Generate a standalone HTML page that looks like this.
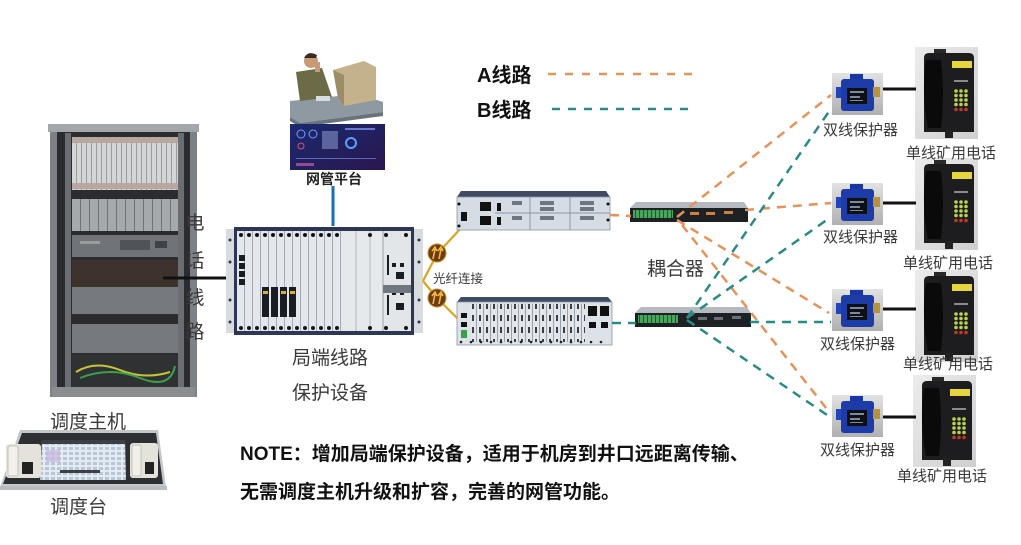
<!DOCTYPE html>
<html><head><meta charset="utf-8">
<style>
html,body{margin:0;padding:0;background:#fff;}
svg{display:block;}
text{font-family:"Liberation Sans","Noto Sans CJK SC",sans-serif;}
</style></head><body>
<svg width="1021" height="545" viewBox="0 0 1021 545" xmlns="http://www.w3.org/2000/svg" xmlns:xlink="http://www.w3.org/1999/xlink">
<defs>
<pattern id="cards1" x="72" y="0" width="5" height="10" patternUnits="userSpaceOnUse"><rect width="5" height="10" fill="#d3d5d7"/><rect x="4" width="1" height="10" fill="#9a9ca0"/></pattern>
<pattern id="cards2" x="72" y="0" width="9" height="10" patternUnits="userSpaceOnUse"><rect width="9" height="10" fill="#a6a9ac"/><rect x="8" width="1" height="10" fill="#6f7276"/></pattern>
<pattern id="cardsC" x="237" y="0" width="8" height="10" patternUnits="userSpaceOnUse"><rect width="8" height="10" fill="#e4e7eb"/><rect x="7" width="1" height="10" fill="#a4abb3"/></pattern>
<pattern id="cardsL" x="470" y="0" width="7" height="12" patternUnits="userSpaceOnUse"><rect width="7" height="12" fill="#e2e6ea"/><rect x="6" width="1" height="12" fill="#98a0aa"/><rect x="2" y="3" width="2" height="6" fill="#3a3f46"/></pattern>
<pattern id="term" x="0" y="0" width="4" height="8" patternUnits="userSpaceOnUse"><rect width="4" height="8" fill="#4aa35c"/><rect x="3" width="1" height="8" fill="#1f5a2a"/></pattern>
<pattern id="grid" x="44" y="446" width="6" height="5" patternUnits="userSpaceOnUse"><rect width="6" height="5" fill="#e4ebf2"/><rect x="1" y="1" width="4" height="3" fill="#b9c6d6"/></pattern>
<linearGradient id="pbg" x1="0" y1="0" x2="0" y2="1"><stop offset="0" stop-color="#e2e2e2"/><stop offset="1" stop-color="#b0b0b0"/></linearGradient>
<linearGradient id="phbg" x1="0" y1="0" x2="1" y2="1"><stop offset="0" stop-color="#ececec"/><stop offset="1" stop-color="#cfcfcf"/></linearGradient>
<linearGradient id="scr" x1="0" y1="0" x2="1" y2="1"><stop offset="0" stop-color="#1a2a6e"/><stop offset="1" stop-color="#2a1650"/></linearGradient>

<g id="prot">
  <rect x="832" y="73" width="51" height="42" fill="url(#pbg)"/>
  <rect x="836" y="87" width="6" height="11" fill="#2445b8"/>
  <rect x="850" y="74" width="13" height="6" fill="#1a36a2"/>
  <rect x="841" y="79" width="33" height="32" rx="3" fill="#1e3ca8"/>
  <rect x="873" y="87" width="7" height="10" fill="#b8923a"/>
  <rect x="847" y="88" width="20" height="16" fill="#0e1016"/>
  <rect x="850" y="91" width="14" height="2" fill="#7a8aa0"/>
  <rect x="850" y="96" width="10" height="2" fill="#7a8aa0"/>
  <rect x="850" y="100" width="13" height="1" fill="#7a8aa0"/>
</g>
<g id="phone">
  <rect x="915" y="47" width="63" height="92" fill="url(#phbg)"/>
  <rect x="934" y="49" width="12" height="5" fill="#2a2a2a"/>
  <path d="M924,58 Q924,53 929,53 L969,53 Q974,53 974,58 L974,132 L924,132 Z" fill="#1d1d1f"/>
  <path d="M926,60 Q921,95 928,128 L941,128 Q945,95 941,60 Z" fill="#0a0a0b"/>
  <rect x="952" y="61" width="20" height="7" fill="#e4d63c"/>
  <rect x="954" y="80" width="14" height="2" fill="#8a8a8a"/>
  <g fill="#bcd24a">
    <circle cx="956" cy="91" r="1.8"/><circle cx="961" cy="91" r="1.8"/><circle cx="966" cy="91" r="1.8"/>
    <circle cx="956" cy="95.5" r="1.8"/><circle cx="961" cy="95.5" r="1.8"/><circle cx="966" cy="95.5" r="1.8"/>
    <circle cx="956" cy="100" r="1.8"/><circle cx="961" cy="100" r="1.8"/><circle cx="966" cy="100" r="1.8"/>
    <circle cx="956" cy="104.5" r="1.8"/><circle cx="961" cy="104.5" r="1.8"/><circle cx="966" cy="104.5" r="1.8"/>
  </g>
  <g fill="#c0392b"><circle cx="956" cy="109.5" r="1.8"/><circle cx="961" cy="109.5" r="1.8"/><circle cx="966" cy="109.5" r="1.8"/></g>
  <rect x="945" y="130" width="8" height="8" fill="#222"/>
</g>
</defs>

<!-- ===== Rack ===== -->
<rect x="50" y="125" width="147" height="272" fill="#7d8187"/>
<rect x="48" y="124" width="151" height="8" fill="#a3a6aa"/>
<rect x="57" y="132" width="133" height="255" fill="#2a2c2f"/>
<rect x="65" y="133" width="6" height="254" fill="#6a6d72"/>
<rect x="178" y="133" width="6" height="254" fill="#6a6d72"/>
<rect x="72" y="137" width="106" height="53" fill="url(#cards1)"/>
<rect x="72" y="137" width="106" height="6" fill="#b9a8a2"/>
<rect x="72" y="183" width="106" height="6" fill="#b9a8a2"/>
<rect x="72" y="199" width="106" height="32" fill="url(#cards2)"/>
<rect x="72" y="235" width="106" height="22" fill="#707377"/>
<rect x="120" y="240" width="30" height="10" fill="#505357"/>
<rect x="155" y="241" width="12" height="7" fill="#3e4145"/>
<rect x="80" y="241" width="20" height="3" fill="#9a9da0"/>
<rect x="72" y="260" width="106" height="27" fill="#3d322c"/>
<rect x="72" y="287" width="106" height="27" fill="#76797d"/>
<rect x="72" y="324" width="106" height="29" fill="#76797d"/>
<rect x="72" y="355" width="106" height="32" fill="#2f3132"/>
<path d="M76,372 Q95,360 120,370 T170,372" stroke="#c9c33a" stroke-width="2" fill="none"/>
<path d="M80,378 Q110,366 140,378 T175,366" stroke="#3aa04a" stroke-width="2" fill="none"/>
<rect x="52" y="387" width="143" height="10" fill="#8a8d90"/>

<!-- line to central device -->
<line x1="163" y1="278" x2="228" y2="278" stroke="#111" stroke-width="3"/>
<g font-size="19" fill="#3a3a3a" text-anchor="middle">
<text x="195" y="229">电</text>
<text x="195" y="267">话</text>
<text x="195" y="304">线</text>
<text x="195" y="338">路</text>
</g>
<text x="50" y="428" font-size="19" fill="#3a3a3a">调度主机</text>

<!-- ===== Console ===== -->
<polygon points="20,430 158,430 166,487 0,487" fill="#c4c7ca"/>
<polygon points="22,433 156,433 163,484 3,484" fill="#2e2f33"/>
<rect x="0" y="486" width="167" height="4" fill="#b9bcc0"/>
<polygon points="42,440 125,440 126,480 40,480" fill="url(#grid)"/>
<rect x="42" y="440" width="83" height="4" fill="#3b4048"/>
<rect x="60" y="470" width="40" height="3" fill="#3b4048"/>
<rect x="46" y="450" width="14" height="12" fill="#c6b6e0" opacity="0.7"/>
<rect x="6" y="444" width="35" height="34" rx="3" fill="#e4e2da"/>
<rect x="8" y="446" width="10" height="30" rx="2" fill="#f2f0ea" stroke="#b9b7b0" stroke-width="0.8"/>
<rect x="22" y="462" width="11" height="12" fill="#222"/>
<rect x="130" y="443" width="28" height="35" rx="3" fill="#e4e2da"/>
<rect x="132" y="445" width="9" height="31" rx="2" fill="#f2f0ea" stroke="#b9b7b0" stroke-width="0.8"/>
<rect x="145" y="462" width="9" height="12" fill="#222"/>
<text x="50" y="513" font-size="19" fill="#3a3a3a">调度台</text>

<!-- ===== Network management ===== -->
<polygon points="290,101 358,94 383,102 383,112 300,123 290,117" fill="#8f99a2"/>
<polygon points="290,117 300,123 383,112 383,116 300,127 290,121" fill="#6a737c"/>
<polygon points="333,70 364,61 376,67 376,100 344,106 338,98" fill="#c4b28c"/>
<polygon points="333,70 338,98 344,106 344,75" fill="#9d8c68"/>
<polygon points="296,72 322,68 332,97 300,101" fill="#6b6c47"/>
<circle cx="311" cy="61" r="7" fill="#c99a78"/>
<path d="M304,58 Q308,50 317,55 L316,58 Z" fill="#3a2a20"/>
<rect x="315" y="62" width="5" height="10" fill="#c99a78"/>
<rect x="316" y="96" width="14" height="5" fill="#d8dde2"/>
<rect x="290" y="124" width="95" height="46" fill="url(#scr)"/>
<circle cx="301" cy="134" r="4" fill="none" stroke="#7a9aff" stroke-width="1"/>
<circle cx="313" cy="134" r="4" fill="none" stroke="#7a9aff" stroke-width="1"/>
<circle cx="301" cy="146" r="3" fill="none" stroke="#e0507a" stroke-width="1"/>
<rect x="322" y="131" width="16" height="18" fill="#8e9ad0" opacity="0.55"/>
<circle cx="351" cy="143" r="5" fill="none" stroke="#5aa0ff" stroke-width="2"/>
<rect x="345" y="128" width="30" height="2" fill="#6a7ad0"/>
<rect x="296" y="158" width="80" height="1" fill="#5a6ab0"/>
<rect x="296" y="163" width="18" height="3" fill="#c060a0" opacity="0.7"/>
<text x="334" y="184" font-size="14" font-weight="bold" fill="#222" text-anchor="middle">网管平台</text>
<line x1="333" y1="186" x2="333" y2="226" stroke="#1c6db3" stroke-width="3"/>

<!-- ===== Central device ===== -->
<rect x="226" y="229" width="10" height="104" fill="#d9dcdf"/>
<rect x="413" y="229" width="10" height="104" fill="#d9dcdf"/>
<g fill="#2c3550"><circle cx="230" cy="240" r="1.5"/><circle cx="230" cy="262" r="1.5"/><circle cx="230" cy="300" r="1.5"/><circle cx="230" cy="322" r="1.5"/>
<circle cx="419" cy="240" r="1.5"/><circle cx="419" cy="262" r="1.5"/><circle cx="419" cy="300" r="1.5"/><circle cx="419" cy="322" r="1.5"/></g>
<rect x="234" y="227" width="180" height="108" fill="#2d3653"/>
<rect x="237" y="231" width="174" height="100" fill="#dfe3e7"/>
<rect x="237" y="231" width="106" height="100" fill="url(#cardsC)"/>
<rect x="343" y="231" width="40" height="100" fill="#e6e9ec"/>
<line x1="356" y1="231" x2="356" y2="331" stroke="#b0b6bd"/>
<line x1="370" y1="231" x2="370" y2="331" stroke="#b0b6bd"/>
<rect x="383" y="231" width="28" height="100" fill="#e3e6e9"/>
<line x1="383" y1="231" x2="383" y2="331" stroke="#9aa1a9"/>
<g fill="#1a1d24">
<rect x="239" y="255" width="6" height="6"/><rect x="239" y="263" width="6" height="6"/><rect x="239" y="271" width="6" height="6"/><rect x="239" y="279" width="6" height="6"/>
<rect x="262" y="287" width="7" height="30"/><rect x="271" y="287" width="7" height="30"/><rect x="280" y="287" width="7" height="30"/><rect x="289" y="287" width="7" height="30"/>
<rect x="392" y="263" width="4" height="4"/><rect x="400" y="263" width="4" height="4"/><rect x="396" y="272" width="8" height="7"/>
<rect x="392" y="291" width="4" height="4"/><rect x="400" y="291" width="4" height="4"/><rect x="396" y="303" width="8" height="7"/>
<rect x="387" y="255" width="2" height="20"/><rect x="387" y="295" width="2" height="20"/>
</g>
<g fill="#d4b23a"><rect x="263" y="291" width="5" height="3"/><rect x="281" y="291" width="5" height="3"/><rect x="290" y="291" width="5" height="3"/></g>
<rect x="383" y="285" width="28" height="8" fill="#707780"/>
<g fill="#121418">
<circle cx="241" cy="235" r="2"/><circle cx="249" cy="235" r="2"/><circle cx="257" cy="235" r="2"/><circle cx="265" cy="235" r="2"/><circle cx="273" cy="235" r="2"/><circle cx="281" cy="235" r="2"/><circle cx="289" cy="235" r="2"/><circle cx="297" cy="235" r="2"/><circle cx="305" cy="235" r="2"/><circle cx="313" cy="235" r="2"/><circle cx="321" cy="235" r="2"/><circle cx="329" cy="235" r="2"/><circle cx="337" cy="235" r="2"/><circle cx="370" cy="235" r="2"/><circle cx="386" cy="235" r="2"/><circle cx="406" cy="235" r="2"/>
<circle cx="241" cy="328" r="2"/><circle cx="249" cy="328" r="2"/><circle cx="257" cy="328" r="2"/><circle cx="265" cy="328" r="2"/><circle cx="273" cy="328" r="2"/><circle cx="281" cy="328" r="2"/><circle cx="289" cy="328" r="2"/><circle cx="297" cy="328" r="2"/><circle cx="305" cy="328" r="2"/><circle cx="313" cy="328" r="2"/><circle cx="321" cy="328" r="2"/><circle cx="329" cy="328" r="2"/><circle cx="337" cy="328" r="2"/><circle cx="370" cy="328" r="2"/><circle cx="386" cy="328" r="2"/><circle cx="406" cy="328" r="2"/>
</g>
<text x="330" y="364" font-size="19" fill="#3a3a3a" text-anchor="middle">局端线路</text>
<text x="330" y="399" font-size="19" fill="#3a3a3a" text-anchor="middle">保护设备</text>

<!-- ===== Fiber ===== -->
<polyline points="423,281 437,254 462,227" fill="none" stroke="#d9a520" stroke-width="2.2"/>
<polyline points="423,281 437,298 461,322" fill="none" stroke="#d9a520" stroke-width="2.2"/>
<g>
<circle cx="437" cy="253" r="9" fill="#6e3c12" stroke="#c8902e" stroke-width="1"/>
<path d="M433,259 L435,249 M439,259 L441,249 M432,251 L435,247 L437,251 M438,251 L441,247 L443,251" stroke="#f0b848" stroke-width="1.6" fill="none"/>
<circle cx="437" cy="298" r="9" fill="#6e3c12" stroke="#c8902e" stroke-width="1"/>
<path d="M433,304 L435,294 M439,304 L441,294 M432,296 L435,292 L437,296 M438,296 L441,292 L443,296" stroke="#f0b848" stroke-width="1.6" fill="none"/>
</g>
<text x="433" y="283" font-size="12.5" fill="#3a3a3a">光纤连接</text>

<!-- ===== Upper right device ===== -->
<polygon points="461,191 606,191 610,197 457,197" fill="#3f4a63"/>
<rect x="457" y="197" width="153" height="33" fill="#d6dce3" stroke="#8a96a8" stroke-width="0.8"/>
<line x1="495" y1="213" x2="610" y2="213" stroke="#8a96a8"/>
<line x1="530" y1="197" x2="530" y2="230" stroke="#8a96a8"/>
<line x1="570" y1="197" x2="570" y2="230" stroke="#8a96a8"/>
<g fill="#111">
<rect x="461" y="212" width="6" height="9"/>
<rect x="480" y="202" width="11" height="9"/><rect x="480" y="216" width="11" height="9"/>
<rect x="497" y="203" width="4" height="8"/><rect x="497" y="217" width="4" height="8"/>
<circle cx="459" cy="204" r="1.5"/><circle cx="459" cy="226" r="1.5"/>
<circle cx="608" cy="204" r="1.5"/><circle cx="608" cy="220" r="1.5"/>
</g>
<g fill="#6e7680">
<rect x="540" y="201" width="14" height="4"/><rect x="540" y="207" width="14" height="4"/><rect x="540" y="216" width="14" height="4"/>
<rect x="580" y="201" width="14" height="4"/><rect x="580" y="207" width="14" height="4"/><rect x="580" y="216" width="14" height="4"/>
<rect x="512" y="201" width="10" height="4"/><rect x="512" y="216" width="10" height="4"/>
</g>

<!-- ===== Lower right device ===== -->
<polygon points="461,297 608,297 612,302 457,302" fill="#3f4a63"/>
<rect x="457" y="302" width="155" height="43" fill="#dde2e8" stroke="#8a96a8" stroke-width="0.8"/>
<rect x="470" y="304" width="115" height="38" fill="url(#cardsL)"/>
<g fill="#111">
<rect x="461" y="313" width="6" height="5"/><rect x="461" y="322" width="6" height="5"/>
<rect x="588" y="306" width="9" height="10"/><rect x="600" y="306" width="9" height="10"/>
<rect x="589" y="322" width="7" height="6"/><rect x="601" y="322" width="7" height="6"/>
</g>
<rect x="461" y="330" width="6" height="8" fill="#3aa04a"/>
<g fill="#222">
<circle cx="461" cy="342" r="1.3"/><circle cx="471" cy="342" r="1.3"/><circle cx="481" cy="342" r="1.3"/><circle cx="491" cy="342" r="1.3"/><circle cx="501" cy="342" r="1.3"/><circle cx="511" cy="342" r="1.3"/><circle cx="521" cy="342" r="1.3"/><circle cx="531" cy="342" r="1.3"/><circle cx="541" cy="342" r="1.3"/><circle cx="551" cy="342" r="1.3"/><circle cx="561" cy="342" r="1.3"/><circle cx="571" cy="342" r="1.3"/><circle cx="581" cy="342" r="1.3"/><circle cx="591" cy="342" r="1.3"/><circle cx="601" cy="342" r="1.3"/>
</g>

<!-- ===== Couplers ===== -->
<polygon points="636,202 744,202 748,208 630,208" fill="#b6bac0"/>
<rect x="630" y="208" width="118" height="14" fill="#1e2124"/>
<rect x="633" y="210" width="40" height="8" fill="url(#term)"/>
<g fill="#c8814a"><rect x="690" y="212" width="9" height="3"/><rect x="706" y="212" width="9" height="3"/><rect x="724" y="211" width="9" height="3"/></g>
<polygon points="641,307 747,307 751,313 635,313" fill="#b6bac0"/>
<rect x="635" y="313" width="116" height="14" fill="#1e2124"/>
<rect x="638" y="315" width="40" height="8" fill="url(#term)"/>
<g fill="#6a7078"><rect x="698" y="317" width="9" height="3"/><rect x="714" y="317" width="9" height="3"/><rect x="732" y="316" width="9" height="3"/></g>
<text x="647" y="275" font-size="19" fill="#3a3a3a">耦合器</text>

<!-- ===== Protectors & phones ===== -->
<use xlink:href="#prot"/>
<use xlink:href="#prot" y="110"/>
<use xlink:href="#prot" y="216"/>
<use xlink:href="#prot" y="322"/>
<use xlink:href="#phone"/>
<use xlink:href="#phone" y="111"/>
<use xlink:href="#phone" y="223"/>
<use xlink:href="#phone" x="-2" y="328"/>
<g stroke="#111" stroke-width="3">
<line x1="883" y1="89" x2="916" y2="89"/>
<line x1="883" y1="203" x2="916" y2="203"/>
<line x1="883" y1="309" x2="916" y2="309"/>
<line x1="883" y1="417" x2="916" y2="417"/>
</g>
<g font-size="15" fill="#3a3a3a">
<text x="823" y="135">双线保护器</text>
<text x="823" y="242">双线保护器</text>
<text x="820" y="349">双线保护器</text>
<text x="820" y="455">双线保护器</text>
<text x="906" y="158">单线矿用电话</text>
<text x="903" y="268">单线矿用电话</text>
<text x="903" y="369">单线矿用电话</text>
<text x="897" y="481">单线矿用电话</text>
</g>

<!-- ===== Dashed lines ===== -->
<g fill="none" stroke="#e4935a" stroke-width="2.5" stroke-dasharray="9 7">
<line x1="610" y1="215" x2="631" y2="216"/>
<line x1="677" y1="217" x2="831" y2="95"/>
<line x1="745" y1="210" x2="831" y2="203"/>
<line x1="677" y1="220" x2="829" y2="313"/>
<line x1="682" y1="225" x2="830" y2="413"/>
</g>
<g fill="none" stroke="#2b8a84" stroke-width="2.5" stroke-dasharray="9 7">
<line x1="612" y1="323" x2="636" y2="323"/>
<line x1="687" y1="318" x2="830" y2="110"/>
<line x1="687" y1="318" x2="831" y2="217"/>
<line x1="750" y1="322" x2="831" y2="322"/>
<line x1="687" y1="320" x2="830" y2="417"/>
</g>

<!-- ===== Legend ===== -->
<text x="477" y="82" font-size="20" font-weight="bold" fill="#111">A线路</text>
<text x="477" y="117" font-size="20" font-weight="bold" fill="#111">B线路</text>
<line x1="548" y1="74" x2="692" y2="74" stroke="#e4935a" stroke-width="2.5" stroke-dasharray="8 9"/>
<line x1="552" y1="109" x2="690" y2="109" stroke="#2b8a84" stroke-width="2.5" stroke-dasharray="8 8"/>

<!-- ===== Note ===== -->
<text x="240" y="460" font-size="19" font-weight="bold" fill="#111">NOTE：增加局端保护设备，适用于机房到井口远距离传输、</text>
<text x="240" y="498" font-size="19" font-weight="bold" fill="#111">无需调度主机升级和扩容，完善的网管功能。</text>
</svg>
</body></html>
